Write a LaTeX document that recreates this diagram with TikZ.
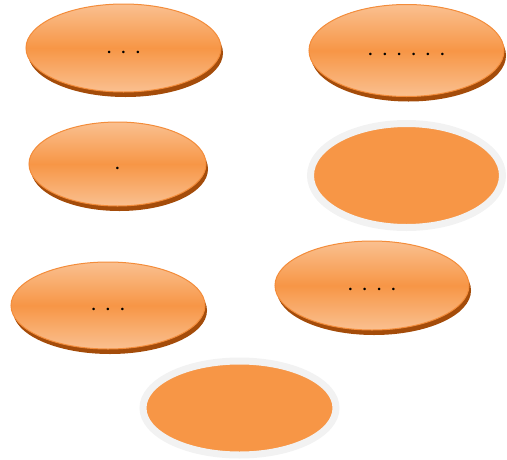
\documentclass[tikz,border=0pt]{standalone}
\usepackage{tikz}
\usetikzlibrary{shapes.geometric}
\definecolor{orMain}{HTML}{F79646}
\definecolor{orLight}{HTML}{FAC090}
\definecolor{orEdge}{HTML}{F38C3A}
\definecolor{orShadow}{HTML}{A44C0A}
\definecolor{rimGray}{HTML}{F2F2F2}
\newcommand\dg{\hspace{7.2pt}}
\newcommand\dt{\textbullet}
\newcommand\lowtext[1]{\smash{\raisebox{-6pt}{#1}}}
\tikzset{
  disc/.style={ellipse, inner sep=0pt, minimum width=#1, draw=orEdge, line width=1pt,
    top color=orLight, bottom color=orLight, middle color=orMain, shading angle=0,
    font=\small},
  shadowdisc/.style={ellipse, inner sep=0pt, minimum width=#1, fill=orShadow, draw=none},
  plaindisc/.style={ellipse, inner sep=0pt, minimum width=#1, fill=orMain, draw=rimGray, line width=7pt}
}
\begin{document}
\begin{tikzpicture}[x=1pt,y=-1pt]
\useasboundingbox (0,0) rectangle (507,459);
% shadows
\node[shadowdisc=195pt, minimum height=88pt] (s1) at (125.5,53) {};
\node[shadowdisc=195pt, minimum height=92pt] (s2) at (408.5,55.5) {};
\node[shadowdisc=177pt, minimum height=84pt] (s3) at (119.5,169) {};
\node[shadowdisc=194pt, minimum height=89pt] (s5) at (374,290.5) {};
\node[shadowdisc=194pt, minimum height=87pt] (s6) at (110,310.5) {};
% main discs
\node[disc=195pt, minimum height=88pt] (a) at (123.5,48) {\lowtext{\dt\dg\dt\dg\dt}};
\node[disc=195pt, minimum height=92pt] (b) at (406.5,50.5) {\lowtext{\dt\dg\dt\dg\dt\dg\dt\dg\dt\dg\dt}};
\node[disc=177pt, minimum height=84pt] (c) at (117.5,164) {\lowtext{\dt}};
\node[disc=194pt, minimum height=89pt] (e) at (372,285.5) {\lowtext{\dt\dg\dt\dg\dt\dg\dt}};
\node[disc=194pt, minimum height=87pt] (f) at (108,305.5) {\lowtext{\dt\dg\dt\dg\dt}};
% plain discs with grey rim
\node[plaindisc=192pt, minimum height=104pt] (d) at (406.5,175.5) {};
\node[plaindisc=193pt, minimum height=94pt] (g) at (239.5,408) {};
\end{tikzpicture}
\end{document}
